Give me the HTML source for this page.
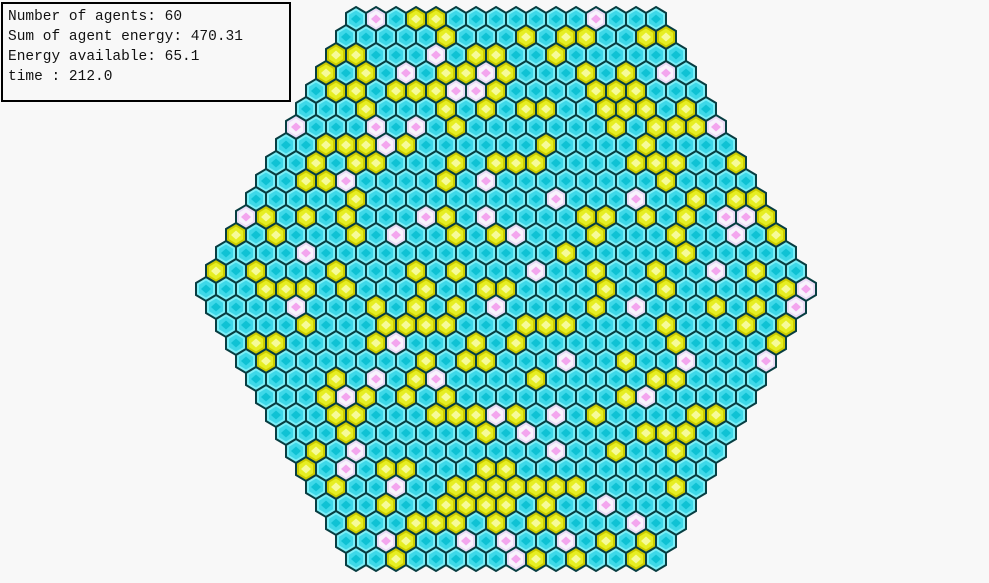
<!DOCTYPE html>
<html>
<head>
<meta charset="utf-8">
<style>
  html, body { margin: 0; padding: 0; background: #f8f8f8; }
  body { width: 989px; height: 583px; position: relative; overflow: hidden; }
  #info {
    position: absolute; left: 1px; top: 2px; width: 286px; height: 96px;
    border: 2px solid #000; background: #f8f8f8;
    font-family: "Liberation Mono", monospace; font-size: 14.5px; color: #111;
  }
  #info div { position: absolute; left: 5px; white-space: pre; }
  svg { position: absolute; left: 0; top: 0; }
</style>
</head>
<body>
<svg id="grid" width="989" height="583"></svg>
<div id="info">
  <div style="top:5px">Number of agents: 60</div>
  <div style="top:25px">Sum of agent energy: 470.31</div>
  <div style="top:45px">Energy available: 65.1</div>
  <div style="top:65px">time : 212.0</div>
</div>
<script>
// cell states per row: c = empty/cyan, y = resource/yellow, w = agent/pale
const rowCells = [
  "cwcyycccccccwccc",
  "cccccycccycyyccyy",
  "yycccwcyyccycccccc",
  "ycycwcyywycccycycwc",
  "cyycyyywwyccccyyyccc",
  "cccycccycycyyccyyycyc",
  "wcccwcwcycccccccycyyyw",
  "ccyyywyccccccyccccycccc",
  "ccycyycccycyyyccccyyyccy",
  "ccyywccccycwccccccccycccc",
  "cccccyccccccc" + "ccwcccwccycyy",
  "wycycycccwycwc" + "cccyycycycwwy",
  "ycycccycwccycy" + "wcccycccyccwcy",
  "ccccwccccccccc" + "cccycccccyccccc",
  "ycycccycccycycc" + "cwccyccyccwcycc",
  "cccyyycycccyccy" + "y" + "ccccyccycccccyw",
  "ccccwcccycycycw" + "ccccycwcccycycw",
  "ccccycccyyyycc" + "c" + "yyyccccycccycy",
  "cyyccccywcccyc" + "ycccccccyccccy",
  "cycccccccycyy" + "cccwccyccwcccw",
  "ccccycwcywcccc" + "ycccccyycccc",
  "cccywycycyccc" + "cccccywccccc",
  "cccyycccyyywy" + "cwcyccccyyc",
  "cccyccccccycw" + "cccccyyycc",
  "cycwcccccccc" + "cwccyccycc",
  "ycwcyycccyyc" + "ccccccccc",
  "cyccwccyyyy" + "yyyccccyc",
  "cccyccyyyyc" + "yccwcccc",
  "cyccyyycyc" + "yycccwcc",
  "ccwyccwcwc" + "cwcycyc",
  "ccycccccw" + "ycyccyc"
];

const SVGNS = "http://www.w3.org/2000/svg";
const svg = document.getElementById("grid");
const N = 15, DX = 20, DY = 18, CX = 506, CY0 = 19;
const palettes = {
  c: { base: "#7aeef6", inner: "#3ed8e8", dot: "#0fc2d4" },
  y: { base: "#cccc00", inner: "#e6ee22", dot: "#f6fa9a" },
  w: { base: "#eadcf6", inner: "#f8f2fc", dot: "#f3a6ee" }
};
function hexPts(cx, cy, rx, ry) {
  return [[0,-ry],[rx,-ry/2],[rx,ry/2],[0,ry],[-rx,ry/2],[-rx,-ry/2]]
    .map(p => (cx+p[0]).toFixed(1)+","+(cy+p[1]).toFixed(1)).join(" ");
}
function poly(pts, fill, stroke, sw) {
  const p = document.createElementNS(SVGNS, "polygon");
  p.setAttribute("points", pts);
  p.setAttribute("fill", fill);
  if (stroke) { p.setAttribute("stroke", stroke); p.setAttribute("stroke-width", sw); }
  return p;
}
rowCells.forEach((row, r) => {
  const count = 2*N+1 - Math.abs(r - N);
  const startX = CX - (count-1)*DX/2;
  const cy = CY0 + r*DY;
  for (let i = 0; i < count; i++) {
    const t = row[i] || "c";
    const pal = palettes[t] || palettes.c;
    const cx = startX + i*DX;
    const g = document.createElementNS(SVGNS, "g");
    
    
    g.appendChild(poly(hexPts(cx, cy, 10, 12), pal.base, "#083e42", 2));
    g.appendChild(poly(hexPts(cx, cy, 7, 8.5), pal.inner));
    g.appendChild(poly(`${cx},${cy-4.5} ${cx+5},${cy} ${cx},${cy+4.5} ${cx-5},${cy}`, pal.dot));
    svg.appendChild(g);
  }
});
</script>
</body>
</html>
